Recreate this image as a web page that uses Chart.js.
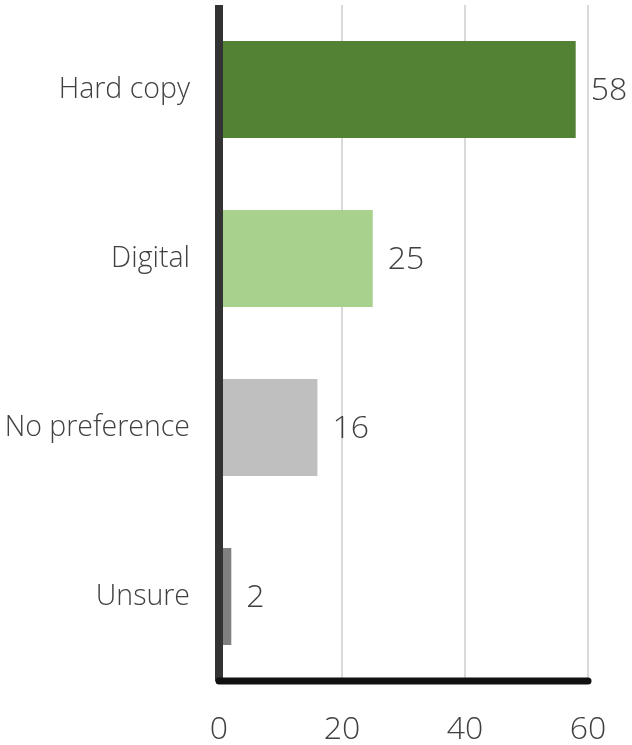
<!DOCTYPE html>
<html>
<head>
<meta charset="utf-8">
<script src="https://cdn.jsdelivr.net/npm/chart.js@4"></script>
<style>
  html, body { margin: 0; padding: 0; background: #ffffff; }
  #wrap { width: 632px; height: 745px; position: relative; }
</style>
</head>
<body>
<div id="wrap"><canvas id="chart"></canvas></div>
<script>
// Preferred format of the material
const categories = ['Hard copy', 'Digital', 'No preference', 'Unsure'];
const values = [58, 25, 16, 2];
const barColors = ['#548235', '#A9D18E', '#BFBFBF', '#808080'];
const xTicks = [0, 20, 40, 60];

const TEXT = '#404040';
const FONT = '"Open Sans", "DejaVu Sans", sans-serif';

// Axis rules on top of the bars, then the value labels
const decorations = {
  id: 'decorations',
  afterDatasetsDraw(chart) {
    const ctx = chart.ctx;
    const area = chart.chartArea;
    const x = chart.scales.x;
    const x0 = x.getPixelForValue(0);
    const xEnd = x.getPixelForValue(xTicks[xTicks.length - 1]);
    ctx.save();
    // vertical axis rule
    ctx.strokeStyle = '#333333';
    ctx.lineWidth = 8;
    ctx.lineCap = 'butt';
    ctx.beginPath();
    ctx.moveTo(x0, area.top);
    ctx.lineTo(x0, area.bottom);
    ctx.stroke();
    // horizontal axis rule
    ctx.strokeStyle = '#111111';
    ctx.lineWidth = 7;
    ctx.lineCap = 'round';
    ctx.beginPath();
    ctx.moveTo(x0, area.bottom);
    ctx.lineTo(xEnd, area.bottom);
    ctx.stroke();
    // value labels
    ctx.fillStyle = TEXT;
    ctx.font = '300 32px ' + FONT;
    ctx.textAlign = 'left';
    ctx.textBaseline = 'middle';
    const meta = chart.getDatasetMeta(0);
    meta.data.forEach((bar, i) => {
      ctx.fillText(String(values[i]), bar.x + 15, bar.y + 1);
    });
    ctx.restore();
  }
};

new Chart(document.getElementById('chart'), {
  type: 'bar',
  data: {
    labels: categories,
    datasets: [{
      data: values,
      backgroundColor: barColors,
      borderWidth: 0,
      barPercentage: 0.575,
      categoryPercentage: 1.0
    }]
  },
  options: {
    indexAxis: 'y',
    responsive: true,
    maintainAspectRatio: false,
    animation: false,
    events: [],
    layout: { padding: { top: 5, right: 44, left: 0, bottom: 0 } },
    plugins: {
      legend: { display: false },
      tooltip: { enabled: false }
    },
    scales: {
      x: {
        min: 0,
        max: 60,
        afterBuildTicks(scale) {
          scale.ticks = xTicks.map(v => ({ value: v }));
        },
        afterFit(scale) {
          scale.height = 64;
          scale.paddingLeft = 0;
          scale.paddingRight = 0;
        },
        grid: {
          drawTicks: false,
          lineWidth: 2,
          color: ctx => (ctx.tick && ctx.tick.value === 0) ? 'rgba(0,0,0,0)' : '#D9D9D9'
        },
        border: { display: false },
        ticks: {
          padding: 30,
          color: TEXT,
          font: { family: FONT, size: 32, weight: 300 },
          maxRotation: 0
        }
      },
      y: {
        afterFit(scale) {
          scale.width = 219;
          scale.paddingTop = 0;
          scale.paddingBottom = 0;
        },
        grid: { display: false, drawTicks: false },
        border: { display: false },
        ticks: {
          padding: 29,
          color: TEXT,
          font: { family: FONT, size: 28.5, weight: 300 }
        }
      }
    }
  },
  plugins: [decorations]
});
</script>
</body>
</html>
